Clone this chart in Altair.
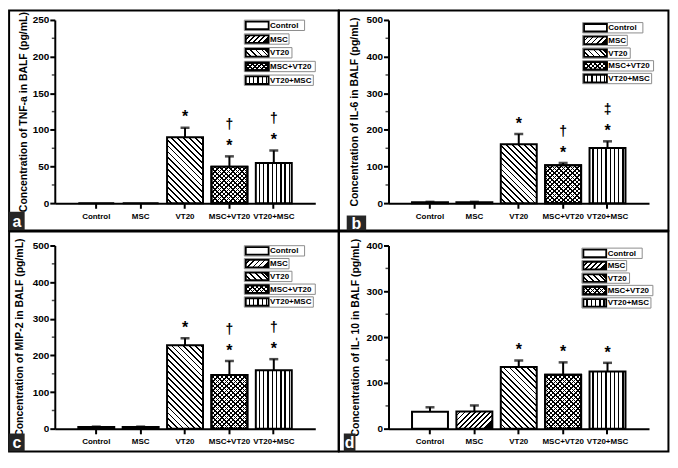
import math
import altair as alt
import pandas as pd

# ---------------- data ----------------
categories = ["Control", "MSC", "VT20", "MSC+VT20", "VT20+MSC"]

tnf_mean = [0, 0, 90, 50, 55]
tnf_sem = [0, 0, 13, 14, 17]
il6_mean = [3, 3, 161, 104, 151]
il6_sem = [1, 1, 28, 6, 18]
mip2_mean = [5, 5, 228, 147, 160]
mip2_sem = [1, 1, 19, 38, 30]
il10_mean = [37, 38, 135, 118, 125]
il10_sem = [10, 13, 14, 27, 19]

star_a = ["", "", "*", "*", "*"]
mark_a = ["", "", "", "†", "†"]
star_b = ["", "", "*", "*", "*"]
mark_b = ["", "", "", "†", "‡"]
star_c = ["", "", "*", "*", "*"]
mark_c = ["", "", "", "†", "†"]
star_d = ["", "", "*", "*", "*"]
mark_d = ["", "", "", "", ""]

titles = [
    "Concentration of TNF-a in BALF (pg/mL)",
    "Concentration of IL-6 in BALF (pg/mL)",
    "Concentration of MIP-2 in BALF (pg/mL)",
    "Concentration of IL- 10 in BALF (pg/mL)",
]
y_max = [250, 500, 500, 400]
major_ticks = [
    [0, 50, 100, 150, 200, 250],
    [0, 100, 200, 300, 400, 500],
    [0, 100, 200, 300, 400, 500],
    [0, 100, 200, 300, 400],
]
minor_ticks = [
    [25, 75, 125, 175, 225],
    [50, 150, 250, 350, 450],
    [50, 150, 250, 350, 450],
    [50, 150, 250, 350],
]
letters = ["a", "b", "c", "d"]

# ---------------- layout (reference pixel units, then scaled) ----------------
SX = 331 / 339
SY = 221 / 234
PANEL_W, PANEL_H = 339, 234
W = 268 * SX
H = 195 * SY
PAD_I, PAD_O = 0.19, 0.53
STEP = W / (5 - PAD_I + 2 * PAD_O)
BW = STEP * (1 - PAD_I)

layout = [
    dict(L=47, T=10, tx=-32, leg=(242, 15.7, 14.6), box=(0, 214, 16, 234)),
    dict(L=51, T=10, tx=-35, leg=(250.7, 18.3, 13.5), box=(8, 218, 28, 234)),
    dict(L=47, T=15, tx=-36, leg=(242, 20.7, 13.6), box=(0, 215, 16, 234)),
    dict(L=51, T=15, tx=-34, leg=(250, 23.3, 13.2), box=(5, 215, 17, 234)),
]
COL_SP = (PANEL_W + 51) * SX - (47 * SX + W)
ROW_SP = (PANEL_H + 15) * SY - (10 * SY + H)
LEG_BOX_W = [62, 46, 49, 73, 71]

FONT = "Liberation Sans"
WHITE = "#ffffff"
BLACK = "#000000"
CLEAR = "rgba(0,0,0,0)"


# ---------------- hatch patterns as hard-stop gradients ----------------
def stripe_stops(period, frac, tmax, bg, fg):
    stops = []
    k = 0
    while k * period <= min(1.0, tmax + period):
        a = k * period
        b = a + period * (1 - frac)
        c = a + period
        for off, col in ((a, bg), (b, bg), (b, fg), (c, fg)):
            stops.append({"offset": round(min(off, 1.0), 5), "color": col})
        if c >= 1.0:
            break
        k += 1
    return stops


def diag(w, h, spacing, lw, kind, bg=WHITE):
    h = max(h, 0.5)
    r = h / w
    n = 1 + r * r
    if kind == "/":
        x1, y1, x2, y2 = 0, 0, 1, r
    else:
        x1, y1, x2, y2 = 0, 1, 1, 1 - r
    period = spacing * math.sqrt(2) / (w * n)
    tmax = (1 + r) / n
    return {"gradient": "linear", "x1": x1, "y1": y1, "x2": x2, "y2": y2,
            "stops": stripe_stops(period, lw / spacing, tmax, bg, BLACK)}


def vert(w, spacing, lw):
    return {"gradient": "linear", "x1": 0, "y1": 0, "x2": 1, "y2": 0,
            "stops": stripe_stops(spacing / w, lw / spacing, 1.0, WHITE, BLACK)}


def fills(cat, w, h):
    if cat == "Control":
        return [WHITE]
    if cat == "MSC":
        return [diag(w, h, 3.6, 1.3, "/")]
    if cat == "VT20":
        return [diag(w, h, 4.2, 1.3, "\\")]
    if cat == "MSC+VT20":
        return [diag(w, h, 3.2, 1.1, "/"), diag(w, h, 3.2, 1.1, "\\", bg=CLEAR)]
    return [vert(w, 4.3, 1.4)]


def make_panel(i, mean, sem, star, mark2):
    lay = layout[i]
    L, T = lay["L"] * SX, lay["T"] * SY
    fx = lambda X: X * SX - L
    fy = lambda Y: Y * SY - T
    ymax = y_max[i]

    df = pd.DataFrame({"cat": categories, "val": mean, "sem": sem,
                       "star": star, "mark2": mark2})
    one = alt.Chart(pd.DataFrame({"k": [0]}))
    base = alt.Chart(df)

    yscale = alt.Scale(domain=[0, ymax], nice=False, zero=True)
    yaxis = alt.Axis(values=major_ticks[i], grid=False, domainColor=BLACK, domainWidth=2,
                     tickColor=BLACK, tickWidth=2, tickSize=5, labelColor=BLACK,
                     labelFontSize=10, labelFontWeight="bold", labelPadding=1,
                     titleFontSize=10.5, titleFontWeight="bold", titleColor=BLACK,
                     titleAngle=270, titleX=lay["tx"] * SX, titleY=H / 2,
                     titleAlign="center", titleBaseline="middle")
    xscale = alt.Scale(paddingInner=PAD_I, paddingOuter=PAD_O)
    xaxis = alt.Axis(labelAngle=0, grid=False, domainColor=BLACK, domainWidth=2,
                     tickColor=BLACK, tickWidth=2, tickSize=5, labelColor=BLACK,
                     labelFontSize=8, labelFontWeight="bold", labelPadding=4)

    def Y(field):
        return alt.Y(field, type="quantitative", scale=yscale, axis=yaxis, title=titles[i])

    X = alt.X("cat:N", sort=categories, scale=xscale, axis=xaxis, title=None)

    layers = []
    # panel frame
    layers.append(one.mark_rect(fillOpacity=0, stroke=BLACK, strokeWidth=2).encode(
        x=alt.value(fx(0)), x2=alt.value(fx(PANEL_W)),
        y=alt.value(fy(0)), y2=alt.value(fy(PANEL_H))))
    # panel letter
    bx0, by0, bx1, by1 = lay["box"]
    layers.append(one.mark_rect(fill="#262626").encode(
        x=alt.value(fx(bx0)), x2=alt.value(fx(bx1)),
        y=alt.value(fy(by0)), y2=alt.value(fy(by1))))
    layers.append(one.mark_text(color=WHITE, fontSize=16, fontWeight="bold",
                                align="center", baseline="middle").encode(
        x=alt.value(fx((bx0 + bx1) / 2)), y=alt.value(fy((by0 + by1) / 2) + 0.5),
        text=alt.value(letters[i])))
    # minor ticks
    layers.append(alt.Chart(pd.DataFrame({"val": minor_ticks[i]})).mark_tick(
        orient="horizontal", size=3, thickness=1.5, color=BLACK).encode(
        y=Y("val"), x=alt.value(-1.5)))
    # bars
    for c, v in zip(categories, mean):
        hpx = v / ymax * H
        for f in fills(c, BW, hpx):
            layers.append(base.transform_filter(alt.datum.cat == c).mark_bar(
                fill=f, stroke=BLACK, strokeWidth=2).encode(x=X, y=Y("val")))
    # error bars
    eb = base.transform_filter("datum.sem > 0").transform_calculate(top="datum.val + datum.sem")
    layers.append(eb.mark_rule(color=BLACK, strokeWidth=2).encode(
        x=X, y=Y("val"), y2=alt.Y2("top:Q")))
    layers.append(eb.mark_tick(orient="horizontal", size=9, thickness=2.5, color=BLACK).encode(
        x=X, y=Y("top")))
    # significance marks
    tb = base.transform_calculate(top="datum.val + datum.sem")
    layers.append(tb.mark_text(fontSize=16, fontWeight="bold", baseline="alphabetic",
                               align="center", dy=-5.3, color=BLACK).encode(
        x=X, y=Y("top"), text="star:N"))
    layers.append(tb.mark_text(fontSize=14, fontWeight="bold", baseline="alphabetic",
                               align="center", dy=-27.5, color=BLACK).encode(
        x=X, y=Y("top"), text="mark2:N"))
    # legend
    lx, ly, ls = lay["leg"]
    for j, c in enumerate(categories):
        yc = ly + j * ls
        layers.append(one.mark_rect(fill=WHITE, stroke="#8c8c8c", strokeWidth=1).encode(
            x=alt.value(fx(lx)), x2=alt.value(fx(lx + LEG_BOX_W[j])),
            y=alt.value(fy(yc - 5.5)), y2=alt.value(fy(yc + 5.5))))
        for f in fills(c, 23.5 * SX, 8 * SY):
            layers.append(one.mark_rect(fill=f, stroke=BLACK, strokeWidth=1.8).encode(
                x=alt.value(fx(lx + 1.5)), x2=alt.value(fx(lx + 25)),
                y=alt.value(fy(yc - 4)), y2=alt.value(fy(yc + 4))))
        layers.append(one.mark_text(align="left", baseline="middle", fontSize=8,
                                    fontWeight="bold", color=BLACK).encode(
            x=alt.value(fx(lx + 26.5)), y=alt.value(fy(yc) + 0.5), text=alt.value(c)))

    return alt.layer(*layers).properties(width=W, height=H)


pa = make_panel(0, tnf_mean, tnf_sem, star_a, mark_a)
pb = make_panel(1, il6_mean, il6_sem, star_b, mark_b)
pc = make_panel(2, mip2_mean, mip2_sem, star_c, mark_c)
pd_ = make_panel(3, il10_mean, il10_sem, star_d, mark_d)

chart = alt.concat(pa, pb, pc, pd_, columns=2,
                   spacing={"row": ROW_SP, "column": COL_SP},
                   bounds="flush").properties(padding=0).configure(
    font=FONT).configure_view(strokeWidth=0)

chart.save("out.html", embed_options={"renderer": "svg", "actions": False})
